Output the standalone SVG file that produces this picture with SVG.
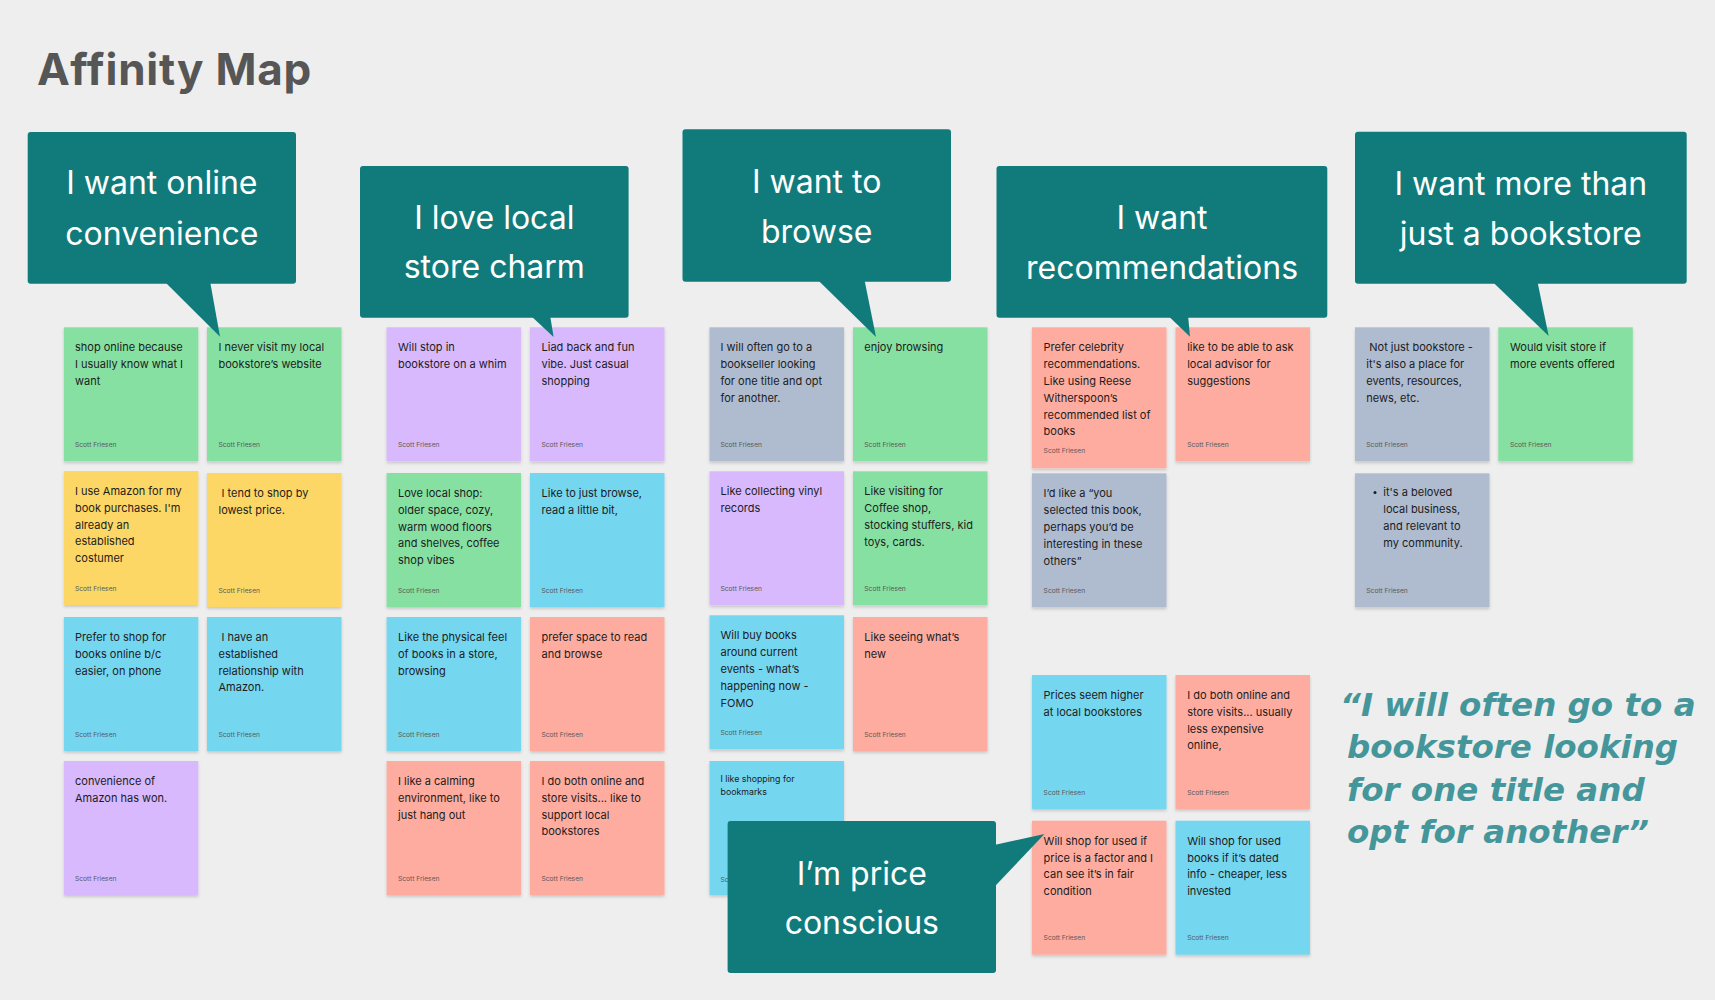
<svg xmlns="http://www.w3.org/2000/svg" width="1715" height="1000" viewBox="0 0 1715 1000">
<defs>
<filter id="sh" x="-10%" y="-10%" width="120%" height="125%">
<feDropShadow dx="0" dy="2" stdDeviation="1.6" flood-color="#000" flood-opacity="0.16"/>
</filter>
</defs>
<style>
.note rect{filter:url(#sh)}
.green{fill:#86E0A2}.yellow{fill:#FDD766}.blue{fill:#75D6F0}.purple{fill:#D8B9FD}.pink{fill:#FEAC9F}.grey{fill:#AFBBCF}
.t{font-family:Inter,"Liberation Sans",sans-serif;font-size:11px;fill:#1c1c1c}
.s{font-family:Inter,"Liberation Sans",sans-serif;font-size:8.8px;fill:#1c1c1c}
.a{font-family:Inter,"Liberation Sans",sans-serif;font-size:6.7px;fill:#5a5a5a}
.bub{fill:#117B7C}
.bt{font-family:Inter,"Liberation Sans",sans-serif;font-size:32px;fill:#fff;text-anchor:middle}
.title{font-family:Inter,"Liberation Sans",sans-serif;font-size:44px;font-weight:700;fill:#565656;letter-spacing:0.8px}
.quote{font-family:"DejaVu Sans",sans-serif;font-size:32.5px;font-weight:700;font-style:oblique;fill:#45969A}
</style>
<rect width="1715" height="1000" fill="#EEEEEE"/>
<text id="title" class="title" x="37" y="85">Affinity Map</text>

<g id="notes">
<g id="n-c1r1" class="note"><rect class="green" x="63.8" y="327.3" width="134.5" height="134"/><text class="t" x="75" y="351.3"><tspan x="75">shop online because</tspan><tspan x="75" dy="16.8">I usually know what I</tspan><tspan x="75" dy="16.8">want</tspan></text><text class="a" x="75" y="446.8">Scott Friesen</text></g>
<g id="n-c1r2" class="note"><rect class="yellow" x="63.8" y="471" width="134.5" height="134"/><text class="t" x="75" y="495"><tspan x="75">I use Amazon for my</tspan><tspan x="75" dy="16.8">book purchases. I'm</tspan><tspan x="75" dy="16.8">already an</tspan><tspan x="75" dy="16.8">established</tspan><tspan x="75" dy="16.8">costumer</tspan></text><text class="a" x="75" y="590.5">Scott Friesen</text></g>
<g id="n-c1r3" class="note"><rect class="blue" x="63.8" y="617" width="134.5" height="134"/><text class="t" x="75" y="641"><tspan x="75">Prefer to shop for</tspan><tspan x="75" dy="16.8">books online b/c</tspan><tspan x="75" dy="16.8">easier, on phone</tspan></text><text class="a" x="75" y="736.5">Scott Friesen</text></g>
<g id="n-c1r4" class="note"><rect class="purple" x="63.8" y="761" width="134.5" height="134"/><text class="t" x="75" y="785"><tspan x="75">convenience of</tspan><tspan x="75" dy="16.8">Amazon has won.</tspan></text><text class="a" x="75" y="880.5">Scott Friesen</text></g>

<g id="n-c2r1" class="note"><rect class="green" x="207" y="327.3" width="134.5" height="134"/><text class="t" x="218.5" y="351.3"><tspan x="218.5">I never visit my local</tspan><tspan x="218.5" dy="16.8">bookstore’s website</tspan></text><text class="a" x="218.5" y="446.8">Scott Friesen</text></g>
<g id="n-c2r2" class="note"><rect class="yellow" x="207" y="473" width="134.5" height="134"/><text class="t" x="218.5" y="497"><tspan x="221.5">I tend to shop by</tspan><tspan x="218.5" dy="16.8">lowest price.</tspan></text><text class="a" x="218.5" y="592.5">Scott Friesen</text></g>
<g id="n-c2r3" class="note"><rect class="blue" x="207" y="617" width="134.5" height="134"/><text class="t" x="218.5" y="641"><tspan x="221.5">I have an</tspan><tspan x="218.5" dy="16.8">established</tspan><tspan x="218.5" dy="16.8">relationship with</tspan><tspan x="218.5" dy="16.8">Amazon.</tspan></text><text class="a" x="218.5" y="736.5">Scott Friesen</text></g>

<g id="n-c3r1" class="note"><rect class="purple" x="386.6" y="327.3" width="134.5" height="134"/><text class="t" x="398" y="351.3"><tspan x="398">Will stop in</tspan><tspan x="398" dy="16.8">bookstore on a whim</tspan></text><text class="a" x="398" y="446.8">Scott Friesen</text></g>
<g id="n-c3r2" class="note"><rect class="green" x="386.6" y="473" width="134.5" height="134"/><text class="t" x="398" y="497"><tspan x="398">Love local shop:</tspan><tspan x="398" dy="16.8">older space, cozy,</tspan><tspan x="398" dy="16.8">warm wood floors</tspan><tspan x="398" dy="16.8">and shelves, coffee</tspan><tspan x="398" dy="16.8">shop vibes</tspan></text><text class="a" x="398" y="592.5">Scott Friesen</text></g>
<g id="n-c3r3" class="note"><rect class="blue" x="386.6" y="617" width="134.5" height="134"/><text class="t" x="398" y="641"><tspan x="398">Like the physical feel</tspan><tspan x="398" dy="16.8">of books in a store,</tspan><tspan x="398" dy="16.8">browsing</tspan></text><text class="a" x="398" y="736.5">Scott Friesen</text></g>
<g id="n-c3r4" class="note"><rect class="pink" x="386.6" y="761" width="134.5" height="134"/><text class="t" x="398" y="785"><tspan x="398">I like a calming</tspan><tspan x="398" dy="16.8">environment, like to</tspan><tspan x="398" dy="16.8">just hang out</tspan></text><text class="a" x="398" y="880.5">Scott Friesen</text></g>

<g id="n-c4r1" class="note"><rect class="purple" x="530" y="327.3" width="134.5" height="134"/><text class="t" x="541.5" y="351.3"><tspan x="541.5">Liad back and fun</tspan><tspan x="541.5" dy="16.8">vibe. Just casual</tspan><tspan x="541.5" dy="16.8">shopping</tspan></text><text class="a" x="541.5" y="446.8">Scott Friesen</text></g>
<g id="n-c4r2" class="note"><rect class="blue" x="530" y="473" width="134.5" height="134"/><text class="t" x="541.5" y="497"><tspan x="541.5">Like to just browse,</tspan><tspan x="541.5" dy="16.8">read a little bit,</tspan></text><text class="a" x="541.5" y="592.5">Scott Friesen</text></g>
<g id="n-c4r3" class="note"><rect class="pink" x="530" y="617" width="134.5" height="134"/><text class="t" x="541.5" y="641"><tspan x="541.5">prefer space to read</tspan><tspan x="541.5" dy="16.8">and browse</tspan></text><text class="a" x="541.5" y="736.5">Scott Friesen</text></g>
<g id="n-c4r4" class="note"><rect class="pink" x="530" y="761" width="134.5" height="134"/><text class="t" x="541.5" y="785"><tspan x="541.5">I do both online and</tspan><tspan x="541.5" dy="16.8">store visits...  like to</tspan><tspan x="541.5" dy="16.8">support local</tspan><tspan x="541.5" dy="16.8">bookstores</tspan></text><text class="a" x="541.5" y="880.5">Scott Friesen</text></g>

<g id="n-c5r1" class="note"><rect class="grey" x="709.5" y="327.3" width="134.5" height="134"/><text class="t" x="720.5" y="351.3"><tspan x="720.5">I will often go to a</tspan><tspan x="720.5" dy="16.8">bookseller looking</tspan><tspan x="720.5" dy="16.8">for one title and opt</tspan><tspan x="720.5" dy="16.8">for another.</tspan></text><text class="a" x="720.5" y="446.8">Scott Friesen</text></g>
<g id="n-c5r2" class="note"><rect class="purple" x="709.5" y="471.3" width="134.5" height="134"/><text class="t" x="720.5" y="495.3"><tspan x="720.5">Like collecting vinyl</tspan><tspan x="720.5" dy="16.8">records</tspan></text><text class="a" x="720.5" y="590.8">Scott Friesen</text></g>
<g id="n-c5r3" class="note"><rect class="blue" x="709.5" y="615.3" width="134.5" height="134"/><text class="t" x="720.5" y="639.3"><tspan x="720.5">Will buy books</tspan><tspan x="720.5" dy="16.8">around current</tspan><tspan x="720.5" dy="16.8">events - what’s</tspan><tspan x="720.5" dy="16.8">happening now -</tspan><tspan x="720.5" dy="16.8">FOMO</tspan></text><text class="a" x="720.5" y="734.8">Scott Friesen</text></g>
<g id="n-c5r4" class="note"><rect class="blue" x="709.5" y="761" width="134.5" height="134"/><text class="s" x="720.5" y="782.3"><tspan x="720.5">I like shopping for</tspan><tspan x="720.5" dy="13">bookmarks</tspan></text><text class="a" x="720.5" y="882">Scott Friesen</text></g>

<g id="n-c6r1" class="note"><rect class="green" x="853" y="327.3" width="134.5" height="134"/><text class="t" x="864.3" y="351.3">enjoy browsing</text><text class="a" x="864.3" y="446.8">Scott Friesen</text></g>
<g id="n-c6r2" class="note"><rect class="green" x="853" y="471.3" width="134.5" height="134"/><text class="t" x="864.3" y="495.3"><tspan x="864.3">Like visiting for</tspan><tspan x="864.3" dy="16.8">Coffee shop,</tspan><tspan x="864.3" dy="16.8">stocking stuffers, kid</tspan><tspan x="864.3" dy="16.8">toys, cards.</tspan></text><text class="a" x="864.3" y="590.8">Scott Friesen</text></g>
<g id="n-c6r3" class="note"><rect class="pink" x="853" y="617" width="134.5" height="134"/><text class="t" x="864.3" y="641"><tspan x="864.3">Like seeing what’s</tspan><tspan x="864.3" dy="16.8">new</tspan></text><text class="a" x="864.3" y="736.5">Scott Friesen</text></g>

<g id="n-c7r1" class="note"><rect class="pink" x="1032" y="327.3" width="134.5" height="141"/><text class="t" x="1043.6" y="351.3"><tspan x="1043.6">Prefer celebrity</tspan><tspan x="1043.6" dy="16.8">recommendations.</tspan><tspan x="1043.6" dy="16.8">Like using Reese</tspan><tspan x="1043.6" dy="16.8">Witherspoon’s</tspan><tspan x="1043.6" dy="16.8">recommended list of</tspan><tspan x="1043.6" dy="16.8">books</tspan></text><text class="a" x="1043.6" y="453">Scott Friesen</text></g>
<g id="n-c7r2" class="note"><rect class="grey" x="1032" y="473.3" width="134.5" height="134"/><text class="t" x="1043.6" y="497.3"><tspan x="1043.6">I’d like a “you</tspan><tspan x="1043.6" dy="16.8">selected this book,</tspan><tspan x="1043.6" dy="16.8">perhaps you’d be</tspan><tspan x="1043.6" dy="16.8">interesting in these</tspan><tspan x="1043.6" dy="16.8">others”</tspan></text><text class="a" x="1043.6" y="592.5">Scott Friesen</text></g>
<g id="n-c7r3" class="note"><rect class="blue" x="1032" y="675" width="134.5" height="134"/><text class="t" x="1043.6" y="699"><tspan x="1043.6">Prices seem higher</tspan><tspan x="1043.6" dy="16.8">at local bookstores</tspan></text><text class="a" x="1043.6" y="794.5">Scott Friesen</text></g>
<g id="n-c7r4" class="note"><rect class="pink" x="1032" y="820.7" width="134.5" height="134"/><text class="t" x="1043.6" y="844.7"><tspan x="1043.6">Will shop for used if</tspan><tspan x="1043.6" dy="16.8">price is a factor and I</tspan><tspan x="1043.6" dy="16.8">can see it’s in fair</tspan><tspan x="1043.6" dy="16.8">condition</tspan></text><text class="a" x="1043.6" y="940.2">Scott Friesen</text></g>

<g id="n-c8r1" class="note"><rect class="pink" x="1175.5" y="327.3" width="134.5" height="134"/><text class="t" x="1187.2" y="351.3"><tspan x="1187.2">like to be able to ask</tspan><tspan x="1187.2" dy="16.8">local advisor for</tspan><tspan x="1187.2" dy="16.8">suggestions</tspan></text><text class="a" x="1187.2" y="446.8">Scott Friesen</text></g>
<g id="n-c8r3" class="note"><rect class="pink" x="1175.5" y="675" width="134.5" height="134"/><text class="t" x="1187.2" y="699"><tspan x="1187.2">I do both online and</tspan><tspan x="1187.2" dy="16.8">store visits... usually</tspan><tspan x="1187.2" dy="16.8">less expensive</tspan><tspan x="1187.2" dy="16.8">online,</tspan></text><text class="a" x="1187.2" y="794.5">Scott Friesen</text></g>
<g id="n-c8r4" class="note"><rect class="blue" x="1175.5" y="820.7" width="134.5" height="134"/><text class="t" x="1187.2" y="844.7"><tspan x="1187.2">Will shop for used</tspan><tspan x="1187.2" dy="16.8">books if it’s dated</tspan><tspan x="1187.2" dy="16.8">info - cheaper, less</tspan><tspan x="1187.2" dy="16.8">invested</tspan></text><text class="a" x="1187.2" y="940.2">Scott Friesen</text></g>

<g id="n-c9r1" class="note"><rect class="grey" x="1355" y="327.3" width="134.5" height="134"/><text class="t" x="1366.3" y="351.3"><tspan x="1369.3">Not just bookstore -</tspan><tspan x="1366.3" dy="16.8">it's also a place for</tspan><tspan x="1366.3" dy="16.8">events, resources,</tspan><tspan x="1366.3" dy="16.8">news, etc.</tspan></text><text class="a" x="1366.3" y="446.8">Scott Friesen</text></g>
<g id="n-c9r2" class="note"><rect class="grey" x="1355" y="473.3" width="134.5" height="134"/><circle cx="1375" cy="492.5" r="1.5" fill="#1c1c1c"/><text class="t" x="1383.3" y="496.3"><tspan x="1383.3">it's a beloved</tspan><tspan x="1383.3" dy="16.8">local business,</tspan><tspan x="1383.3" dy="16.8">and relevant to</tspan><tspan x="1383.3" dy="16.8">my community.</tspan></text><text class="a" x="1366.3" y="592.5">Scott Friesen</text></g>
<g id="n-c10r1" class="note"><rect class="green" x="1498.3" y="327.3" width="134.5" height="134"/><text class="t" x="1510" y="351.3"><tspan x="1510">Would visit store if</tspan><tspan x="1510" dy="16.8">more events offered</tspan></text><text class="a" x="1510" y="446.8">Scott Friesen</text></g>
</g>

<g id="connectors"></g>

<g id="b1"><rect class="bub" x="27.7" y="132" width="268.3" height="151.7" rx="3"/><polygon class="bub" points="164,281 210,281 220,336.7"/><text class="bt" x="161.8" y="194">I want online</text><text class="bt" x="161.8" y="245">convenience</text></g>
<g id="b2"><rect class="bub" x="360" y="166" width="268.6" height="151.7" rx="3"/><polygon class="bub" points="530,315 550,315 553.6,337"/><text class="bt" x="494.3" y="229">I love local</text><text class="bt" x="494.3" y="278">store charm</text></g>
<g id="b3"><rect class="bub" x="682.5" y="129.3" width="268.5" height="152.4" rx="3"/><polygon class="bub" points="816.8,279 864.3,279 876,337"/><text class="bt" x="816.7" y="192.7">I want to</text><text class="bt" x="816.7" y="243.3">browse</text></g>
<g id="b4"><rect class="bub" x="996.5" y="166" width="330.8" height="151.7" rx="3"/><polygon class="bub" points="1167.4,315 1188,315 1190,336.7"/><text class="bt" x="1162" y="229">I want</text><text class="bt" x="1162" y="279.3">recommendations</text></g>
<g id="b5"><rect class="bub" x="727.6" y="821" width="268.4" height="152" rx="3"/><polygon class="bub" points="993,845.3 1044.5,834 993,888.3"/><text class="bt" x="861.8" y="885">I’m price</text><text class="bt" x="861.8" y="934">conscious</text></g>
<g id="b6"><rect class="bub" x="1355" y="131.7" width="331.7" height="152" rx="3"/><polygon class="bub" points="1491.7,281 1537.3,281 1548.7,336"/><text class="bt" x="1520.8" y="195">I want more than</text><text class="bt" x="1520.8" y="245">just a bookstore</text></g>

<g id="quote" class="quote">
<text x="1340" y="716">“I will often go to a</text>
<text x="1347" y="758.3">bookstore looking</text>
<text x="1347" y="801">for one title and</text>
<text x="1347" y="843.3">opt for another”</text>
</g>
</svg>
